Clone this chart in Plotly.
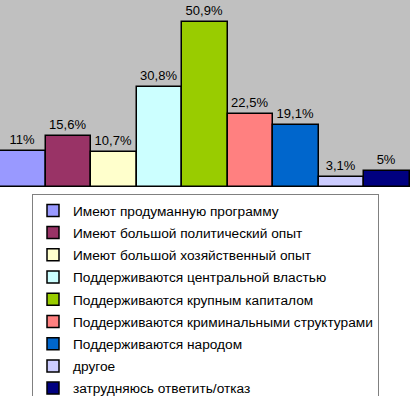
import plotly.graph_objects as go

categories = [
    "Имеют продуманную программу",
    "Имеют большой политический опыт",
    "Имеют большой хозяйственный опыт",
    "Поддерживаются центральной властью",
    "Поддерживаются крупным капиталом",
    "Поддерживаются криминальными структурами",
    "Поддерживаются народом",
    "другое",
    "затрудняюсь ответить/отказ",
]
values = [11, 15.6, 10.7, 30.8, 50.9, 22.5, 19.1, 3.1, 5]
colors = ["#9999FF", "#993366", "#FFFFCC", "#CCFFFF", "#99CC00",
          "#FF8080", "#0066CC", "#CCCCFF", "#000080"]

labels = [f"{v:g}".replace(".", ",") + "%" for v in values]

W, H = 410, 396
plot_bottom_px = 187
legend_top_px = 194
legend_left_px = 32

fig = go.Figure()
for i, (cat, val, col, lab) in enumerate(zip(categories, values, colors, labels)):
    fig.add_trace(go.Bar(
        x=[i], y=[val], name=cat, legendgroup=f"g{i}",
        marker=dict(color=col, line=dict(color="#000000", width=1.5)),
        text=[lab], textposition="outside", cliponaxis=False,
        textfont=dict(family="Liberation Sans, Arial", size=13, color="#000000"),
    ))

fig.update_layout(
    width=W, height=H,
    margin=dict(l=0, r=0, t=0, b=0, autoexpand=False),
    paper_bgcolor="#FFFFFF", plot_bgcolor="#FFFFFF",
    barmode="overlay", bargap=0,
    showlegend=True,
    legend=dict(
        x=legend_left_px / W, xanchor="left",
        y=1 - legend_top_px / H, yanchor="top",
        bordercolor="#808080", borderwidth=1, bgcolor="#FFFFFF",
        font=dict(family="Liberation Sans, Arial", size=13.7, color="#000000"),
        tracegroupgap=1.4, itemclick=False, itemdoubleclick=False,
    ),
    xaxis=dict(range=[-0.5, 8.5], showticklabels=False, showgrid=False,
               zeroline=False, ticks="", fixedrange=True),
    yaxis=dict(range=[0, 57.7], domain=[1 - plot_bottom_px / H, 1],
               showticklabels=False, showgrid=False,
               zeroline=False, ticks="", fixedrange=True),
    font=dict(family="Liberation Sans, Arial"),
    shapes=[dict(type="rect", xref="x domain", yref="y domain",
                 x0=0, x1=1, y0=0, y1=1, fillcolor="#C0C0C0",
                 line=dict(width=0), layer="below")],
)

fig.write_html("out.html",
               config={"displayModeBar": False},
               post_script="document.body.style.margin='0';document.body.style.overflow='hidden';")
